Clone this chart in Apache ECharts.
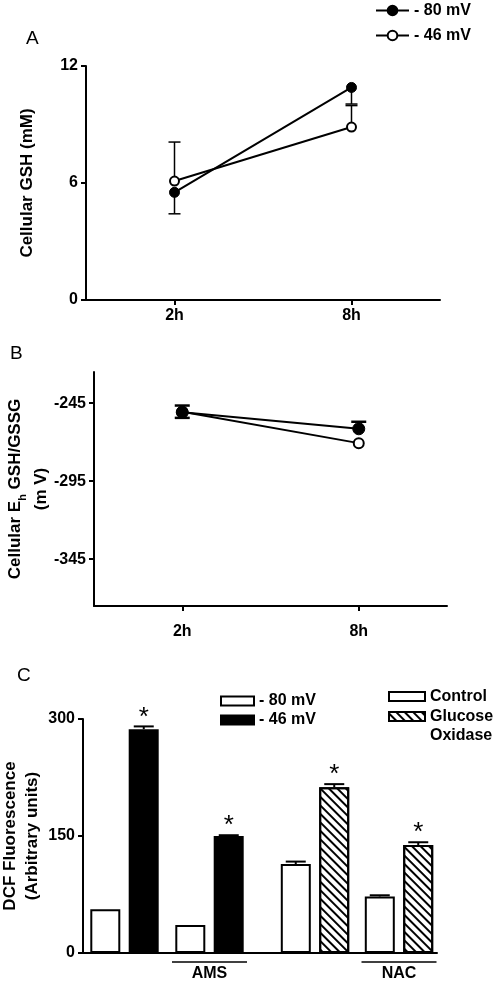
<!DOCTYPE html>
<html>
<head>
<meta charset="utf-8">
<script src="https://cdn.jsdelivr.net/npm/echarts@6/dist/echarts.min.js"></script>
<style>html,body{margin:0;padding:0;background:#fff;}#c{width:498px;height:983px;}</style>
</head>
<body>
<div id="c"></div>
<script>
// ---------- data ----------
const timeCats = ['2h', '8h'];
// Panel A: cellular GSH (mM)
const gsh80 = [5.52, 10.9];
const gsh80Err = [1.1, 0.85];   // drawn downward
const gsh46 = [6.1, 8.87];
const gsh46Err = [2.0, 1.1];    // drawn upward
const gshTicksInterval = 6;
// Panel B: Eh GSH/GSSG (mV)
const eh80 = [-250.8, -261.4];
const eh80Err = [4.3, 4.5];     // drawn upward
const eh46 = [-250.5, -270.6];
const eh46Err = [3.9, 0];       // drawn downward
const ehTicks = [-345, -295, -245];
// Panel C: DCF fluorescence
const dcfCatsLeft = ['', 'AMS'];
const dcf80 = [56, 36];
const dcf80Err = [0, 0];
const dcf46 = [287, 150];
const dcf46Err = [3.5, 1.0];
const dcfCatsRight = ['', 'NAC'];
const dcfControl = [114, 72.5];
const dcfControlErr = [3.2, 1.5];
const dcfGox = [212.5, 138.5];
const dcfGoxErr = [4, 3.5];
const dcfSig46 = [true, true];
const dcfSigGox = [true, true];
const dcfTicksInterval = 150;

// ---------- helpers ----------
const FONT = 'Liberation Sans, Arial, sans-serif';
const K = '#000';

function errSeries(xi, yi, vals, errs, dir, opt) {
  const sig = opt.sig || [];
  return {
    type: 'custom', xAxisIndex: xi, yAxisIndex: yi, z: opt.z || 1, silent: true,
    data: vals.map((v, i) => [i, v, errs[i], sig[i] ? 1 : 0]),
    renderItem: function (params, api) {
      const x = api.value(0), v = api.value(1), e = api.value(2), s = api.value(3);
      const p0 = api.coord([x, v]);
      const p1 = api.coord([x, v + dir * e]);
      const cx = p0[0] + (opt.offset || 0);
      const ch = [];
      if (e > 0) {
        ch.push({type: 'line', shape: {x1: cx, y1: p0[1], x2: cx, y2: p1[1]},
          style: {stroke: K, lineWidth: opt.lw}});
        ch.push({type: 'line', shape: {x1: cx - opt.cap / 2, y1: p1[1], x2: cx + opt.cap / 2, y2: p1[1]},
          style: {stroke: K, lineWidth: opt.lw}});
      }
      if (s) {
        ch.push({type: 'text', x: cx, y: p1[1] - opt.starGap,
          style: {text: '*', fill: K, font: 'normal 26px ' + FONT, align: 'center', verticalAlign: 'middle'}});
      }
      return {type: 'group', children: ch};
    }
  };
}

const axisLineStyle = {show: true, lineStyle: {color: K, width: 2}};
const tickStyle = {show: true, length: 5, lineStyle: {color: K, width: 2}};
const tickLabel = {color: K, fontSize: 16, fontWeight: 'bold', fontFamily: FONT};
const nameStyle = {color: K, fontSize: 17, fontWeight: 'bold', fontFamily: FONT};
const legendText = {color: K, fontSize: 16, fontWeight: 'bold', fontFamily: FONT};
const titleText = {fontSize: 19, fontWeight: 'normal', color: K, fontFamily: FONT};

const BW = 30;            // bar width
const BOFF = 19.25;       // half distance between paired bars
const decalHatch = {symbol: 'rect', symbolSize: 1, dashArrayX: [[1, 0]], dashArrayY: [1.6, 4], rotation: Math.PI / 4, color: K};

const option = {
  animation: false,
  backgroundColor: '#fff',
  title: [
    {text: 'A', left: 26, top: 29, padding: 0, textStyle: titleText},
    {text: 'B', left: 10, top: 344, padding: 0, textStyle: titleText},
    {text: 'C', left: 17, top: 666, padding: 0, textStyle: titleText}
  ],
  legend: [
    {data: ['- 80 mV', '- 46 mV'], orient: 'vertical', left: 375, top: 1, padding: 0, itemWidth: 33, itemHeight: 12, itemGap: 6,
      textStyle: {...legendText, lineHeight: 19}},
    {data: ['- 80 mV ', '- 46 mV '], orient: 'vertical', left: 220, top: 692, padding: 0, itemWidth: 33, itemHeight: 9, itemGap: 1,
      icon: 'rect', itemStyle: {borderColor: K, borderWidth: 2},
      textStyle: {...legendText, lineHeight: 18}},
    {data: ['Control'], orient: 'vertical', left: 388, top: 687, padding: 0, itemWidth: 36, itemHeight: 9,
      icon: 'rect', itemStyle: {borderColor: K, borderWidth: 2},
      textStyle: {...legendText, lineHeight: 19}},
    {data: ['Glucose Oxidase'], orient: 'vertical', left: 388, top: 688, padding: 0, itemWidth: 36, itemHeight: 9,
      icon: 'rect', itemStyle: {borderColor: K, borderWidth: 2},
      formatter: () => '{e| }\n{a|Glucose}\n{a|Oxidase}',
      textStyle: {...legendText, lineHeight: 19,
        rich: {e: {...legendText, lineHeight: 19}, a: {...legendText, lineHeight: 19}}}}
  ],
  grid: [
    {left: 86, top: 66, width: 354, height: 234, outerBoundsMode: 'none'},
    {left: 94, top: 372, width: 353, height: 234, outerBoundsMode: 'none'},
    {left: 83, top: 719, width: 354, height: 234, outerBoundsMode: 'none'},
    {left: 82, top: 719, width: 170, height: 234, outerBoundsMode: 'none'},
    {left: 273, top: 719, width: 168, height: 234, outerBoundsMode: 'none'}
  ],
  xAxis: [
    {gridIndex: 0, type: 'category', data: timeCats, axisLine: axisLineStyle, axisTick: {...tickStyle, alignWithLabel: true},
      axisLabel: {...tickLabel, margin: 8}},
    {gridIndex: 1, type: 'category', data: timeCats, axisLine: axisLineStyle, axisTick: {...tickStyle, alignWithLabel: true},
      axisLabel: {...tickLabel, margin: 18}},
    {gridIndex: 2, type: 'category', data: [''], axisLine: axisLineStyle, axisTick: {show: false}, axisLabel: {show: false}},
    {gridIndex: 3, type: 'category', data: dcfCatsLeft, axisLine: {show: false}, axisTick: {show: false},
      axisLabel: {margin: 8, interval: 0, formatter: v => v ? '{l|}\n{t|' + v + '}' : '',
        rich: {l: {width: 75, height: 1.5, lineHeight: 2, backgroundColor: K},
               t: {...tickLabel, lineHeight: 21, align: 'center'}}}},
    {gridIndex: 4, type: 'category', data: dcfCatsRight, axisLine: {show: false}, axisTick: {show: false},
      axisLabel: {margin: 8, interval: 0, formatter: v => v ? '{l|}\n{t|' + v + '}' : '',
        rich: {l: {width: 75, height: 1.5, lineHeight: 2, backgroundColor: K},
               t: {...tickLabel, lineHeight: 21, align: 'center'}}}}
  ],
  yAxis: [
    {gridIndex: 0, type: 'value', min: 0, max: 12, interval: gshTicksInterval, splitLine: {show: false},
      axisLine: axisLineStyle, axisTick: tickStyle, axisLabel: {...tickLabel, margin: 8},
      name: 'Cellular GSH (mM)', nameLocation: 'middle', nameGap: 50, nameTextStyle: nameStyle},
    {gridIndex: 1, type: 'value', min: -375, max: -225, splitLine: {show: false},
      axisLine: axisLineStyle, axisTick: {...tickStyle, customValues: ehTicks}, axisLabel: {...tickLabel, margin: 8, customValues: ehTicks},
      name: 'Cellular E{s|h} GSH/GSSG\n(m V)', nameLocation: 'middle', nameGap: 40, nameMoveOverlap: false,
      nameTextStyle: {...nameStyle, lineHeight: 26, rich: {s: {...nameStyle, fontSize: 11, verticalAlign: 'bottom', padding: [8, 0, 0, 0]}}}},
    {gridIndex: 2, type: 'value', min: 0, max: 300, interval: dcfTicksInterval, splitLine: {show: false},
      axisLine: axisLineStyle, axisTick: tickStyle, axisLabel: {...tickLabel, margin: 8},
      name: 'DCF Fluorescence\n(Arbitrary units)', nameLocation: 'middle', nameGap: 40, nameMoveOverlap: false,
      nameTextStyle: {...nameStyle, lineHeight: 22}},
    {gridIndex: 3, type: 'value', min: 0, max: 300, show: false},
    {gridIndex: 4, type: 'value', min: 0, max: 300, show: false}
  ],
  series: [
    errSeries(0, 0, gsh80, gsh80Err, -1, {cap: 12, lw: 1.5}),
    errSeries(0, 0, gsh46, gsh46Err, 1, {cap: 12, lw: 1.5}),
    {name: '- 80 mV', type: 'line', xAxisIndex: 0, yAxisIndex: 0, data: gsh80, symbol: 'circle', symbolSize: 10, z: 3,
      lineStyle: {color: K, width: 2}, itemStyle: {color: K, borderColor: K, borderWidth: 1}},
    {name: '- 46 mV', type: 'line', xAxisIndex: 0, yAxisIndex: 0, data: gsh46, symbol: 'circle', symbolSize: 9, z: 3,
      lineStyle: {color: K, width: 2}, itemStyle: {color: '#fff', borderColor: K, borderWidth: 2}},

    errSeries(1, 1, eh80, eh80Err, 1, {cap: 15, lw: 2.5}),
    errSeries(1, 1, eh46, eh46Err, -1, {cap: 15, lw: 2.5}),
    {name: '- 80 mV', type: 'line', xAxisIndex: 1, yAxisIndex: 1, data: eh80, symbol: 'circle', symbolSize: 12, z: 4,
      lineStyle: {color: K, width: 2}, itemStyle: {color: K, borderColor: K, borderWidth: 1}},
    {name: '- 46 mV', type: 'line', xAxisIndex: 1, yAxisIndex: 1, data: eh46, symbol: 'circle', symbolSize: 10, z: 3,
      lineStyle: {color: K, width: 2}, itemStyle: {color: '#fff', borderColor: K, borderWidth: 2}},

    {name: '- 80 mV ', type: 'bar', xAxisIndex: 3, yAxisIndex: 3, data: dcf80, barWidth: BW, barGap: '28%',
      itemStyle: {color: '#fff', borderColor: K, borderWidth: 2}},
    {name: '- 46 mV ', type: 'bar', xAxisIndex: 3, yAxisIndex: 3, data: dcf46, barWidth: BW, barGap: '28%',
      itemStyle: {color: K, borderColor: K, borderWidth: 2}},
    {name: 'Control', type: 'bar', xAxisIndex: 4, yAxisIndex: 4, data: dcfControl, barWidth: BW, barGap: '28%',
      itemStyle: {color: '#fff', borderColor: K, borderWidth: 2}},
    {name: 'Glucose Oxidase', type: 'bar', xAxisIndex: 4, yAxisIndex: 4, data: dcfGox, barWidth: BW, barGap: '28%',
      itemStyle: {color: '#fff', borderColor: K, borderWidth: 2, decal: decalHatch}},
    errSeries(3, 3, dcf80, dcf80Err, 1, {cap: 20, lw: 2, offset: -BOFF, z: 3}),
    errSeries(3, 3, dcf46, dcf46Err, 1, {cap: 20, lw: 2, offset: BOFF, z: 3, sig: dcfSig46, starGap: 9}),
    errSeries(4, 4, dcfControl, dcfControlErr, 1, {cap: 20, lw: 2, offset: -BOFF, z: 3}),
    errSeries(4, 4, dcfGox, dcfGoxErr, 1, {cap: 20, lw: 2, offset: BOFF, z: 3, sig: dcfSigGox, starGap: 9})
  ]
};

const chart = echarts.init(document.getElementById('c'), null, {renderer: 'canvas'});
chart.setOption(option);
</script>
</body>
</html>
